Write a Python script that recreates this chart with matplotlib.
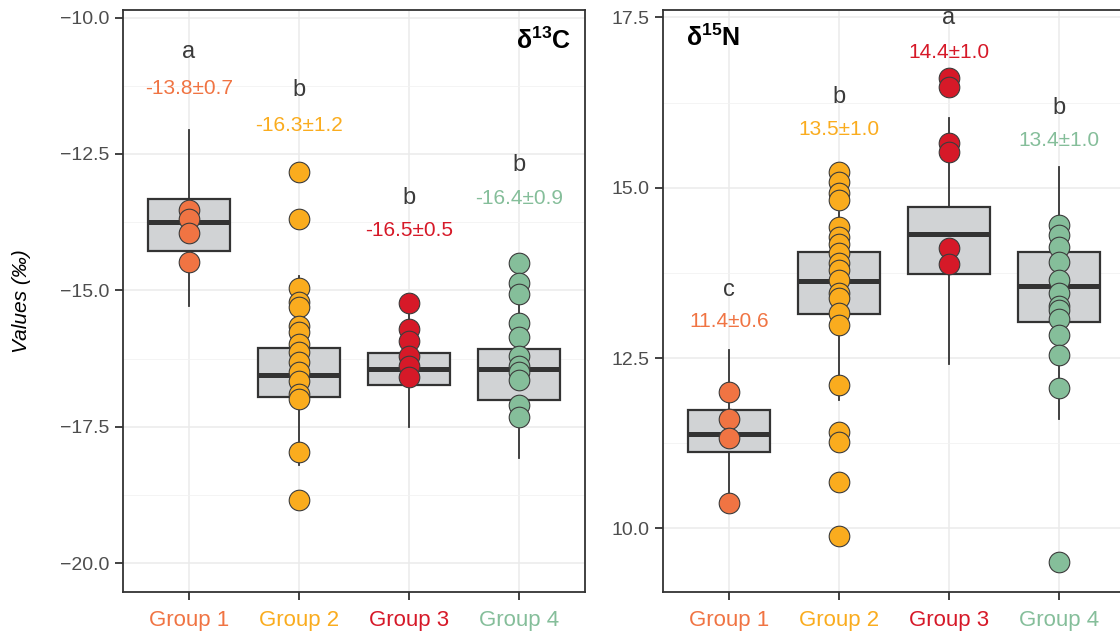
import numpy as np
import matplotlib
matplotlib.use("Agg")
import matplotlib.pyplot as plt
from matplotlib.ticker import FixedLocator, FuncFormatter

plt.rcParams['font.family'] = ['Liberation Sans', 'DejaVu Sans']
plt.rcParams['mathtext.fontset'] = 'custom'
plt.rcParams['mathtext.rm'] = 'Liberation Sans'
plt.rcParams['mathtext.bf'] = 'Liberation Sans:bold'
plt.rcParams['mathtext.it'] = 'Liberation Sans:italic'

# ---------------- data ----------------
groups = ["Group 1", "Group 2", "Group 3", "Group 4"]
colors = ["#F07443", "#FAAC1E", "#D61928", "#85BE9A"]

# delta 13C
c13_points_g1 = [-13.52, -13.70, -13.94, -14.48]
c13_points_g2 = [-12.83, -13.70, -14.95, -15.22, -15.31, -15.65, -15.77, -15.99,
                 -16.13, -16.31, -16.50, -16.66, -16.90, -17.00, -17.96, -18.85]
c13_points_g3 = [-15.24, -15.71, -15.93, -16.20, -16.38, -16.59]
c13_points_g4 = [-14.49, -14.86, -15.07, -15.59, -15.86, -16.20, -16.38, -16.50,
                 -16.65, -17.11, -17.32]
c13_q1 = [-14.28, -16.96, -16.73, -17.01]
c13_med = [-13.74, -16.56, -16.44, -16.45]
c13_q3 = [-13.33, -16.05, -16.14, -16.08]
c13_whislo = [-15.29, -18.21, -17.51, -18.08]
c13_whishi = [-12.06, -14.74, -15.20, -15.16]
c13_letters = ["a", "b", "b", "b"]
c13_letter_y = [-10.63, -11.33, -13.31, -12.70]
c13_means = ["-13.8±0.7", "-16.3±1.2", "-16.5±0.5", "-16.4±0.9"]
c13_mean_y = [-11.29, -11.97, -13.91, -13.31]
c13_ticks = [-20.0, -17.5, -15.0, -12.5, -10.0]

# delta 15N
n15_points_g1 = [12.00, 11.61, 11.33, 10.37]
n15_points_g2 = [15.23, 15.09, 14.92, 14.82, 14.43, 14.28, 14.18, 14.04, 13.89, 13.79,
                 13.65, 13.45, 13.38, 13.16, 12.98, 12.10, 11.42, 11.27, 10.68, 9.88]
n15_points_g3 = [16.61, 16.48, 15.65, 15.53, 14.11, 13.88]
n15_points_g4 = [14.46, 14.31, 14.13, 13.91, 13.64, 13.45, 13.27, 13.20, 13.08,
                 12.84, 12.54, 12.06, 9.51]
n15_q1 = [11.12, 13.14, 13.74, 13.03]
n15_med = [11.39, 13.63, 14.32, 13.56]
n15_q3 = [11.74, 14.05, 14.71, 14.05]
n15_whislo = [10.37, 11.89, 12.41, 11.60]
n15_whishi = [12.62, 14.65, 16.02, 15.30]
n15_letters = ["c", "b", "a", "b"]
n15_letter_y = [13.50, 16.33, 17.49, 16.17]
n15_means = ["11.4±0.6", "13.5±1.0", "14.4±1.0", "13.4±1.0"]
n15_mean_y = [13.03, 15.85, 16.99, 15.70]
n15_ticks = [10.0, 12.5, 15.0, 17.5]

# ---------------- figure ----------------
fig = plt.figure(figsize=(11.2, 6.35), dpi=100)
axL = fig.add_axes([123/1120, 43/635, 462/1120, 582/635])
axR = fig.add_axes([663/1120, 43/635, 462/1120, 582/635])

dark = "#333333"
text_dark = "#3a3a3a"


def draw_panel(ax, pts, q1, med, q3, wlo, whi, letters, letter_y, means, mean_y,
               ticks, ylim):
    pos = np.arange(1, len(groups) + 1)
    stats = []
    for i in range(len(groups)):
        stats.append(dict(med=med[i], q1=q1[i], q3=q3[i], whislo=wlo[i],
                          whishi=whi[i], fliers=[]))
    ax.bxp(stats, positions=pos, widths=0.75, patch_artist=True, showcaps=False,
           showfliers=False,
           boxprops=dict(facecolor="#D1D3D5", edgecolor=dark, linewidth=1.6),
           medianprops=dict(color=dark, linewidth=3.6, solid_capstyle='butt'),
           whiskerprops=dict(color=dark, linewidth=1.3), zorder=2)
    for i, p in enumerate(pts):
        ax.scatter(np.full(len(p), pos[i]), p, s=220, c=colors[i],
                   edgecolors="#3c3c3c", linewidths=0.8, zorder=3)
    for i in range(len(groups)):
        ax.text(pos[i], letter_y[i], letters[i], ha='center', va='center',
                fontsize=17, color=text_dark, zorder=4)
        ax.text(pos[i], mean_y[i], means[i], ha='center', va='center',
                fontsize=15, color=colors[i], zorder=4)
    ax.set_xlim(0.4, 4.6)
    ax.set_ylim(*ylim)
    ax.set_xticks(pos)
    ax.set_xticklabels(groups)
    for lbl, col in zip(ax.get_xticklabels(), colors):
        lbl.set_color(col)
        lbl.set_fontsize(16)
    ax.yaxis.set_major_locator(FixedLocator(ticks))
    minors = [(a + b) / 2 for a, b in zip(ticks[:-1], ticks[1:])]
    minors = [ticks[0] - (ticks[1] - ticks[0]) / 2] + minors + [ticks[-1] + (ticks[1] - ticks[0]) / 2]
    ax.yaxis.set_minor_locator(FixedLocator(minors))
    ax.yaxis.set_major_formatter(FuncFormatter(lambda v, p: ("%.1f" % v).replace('-', '\u2212')))
    ax.tick_params(axis='y', which='major', labelsize=14, labelcolor="#4d4d4d",
                   color=dark, length=6, width=1.3, pad=4)
    ax.tick_params(axis='y', which='minor', length=0)
    ax.tick_params(axis='x', which='major', color=dark, length=6, width=1.3, pad=7)
    ax.grid(True, which='major', color="#EBEBEB", linewidth=1.1)
    ax.grid(True, which='minor', axis='y', color="#F2F2F2", linewidth=0.6)
    ax.set_axisbelow(True)
    for sp in ax.spines.values():
        sp.set_color(dark)
        sp.set_linewidth(1.3)


draw_panel(axL, [c13_points_g1, c13_points_g2, c13_points_g3, c13_points_g4],
           c13_q1, c13_med, c13_q3, c13_whislo, c13_whishi,
           c13_letters, c13_letter_y, c13_means, c13_mean_y, c13_ticks,
           (-20.53, -9.86))
draw_panel(axR, [n15_points_g1, n15_points_g2, n15_points_g3, n15_points_g4],
           n15_q1, n15_med, n15_q3, n15_whislo, n15_whishi,
           n15_letters, n15_letter_y, n15_means, n15_mean_y, n15_ticks,
           (9.065, 17.609))

axL.text(0.97, 0.947, r'$\mathbf{δ^{13}C}$', transform=axL.transAxes,
         ha='right', va='center', fontsize=18, color='black')
axR.text(0.05, 0.952, r'$\mathbf{δ^{15}N}$', transform=axR.transAxes,
         ha='left', va='center', fontsize=18, color='black')

axL.set_ylabel("Values (‰)", fontsize=15, style='italic', color='black', labelpad=21)

fig.savefig("out.png", dpi=100)
